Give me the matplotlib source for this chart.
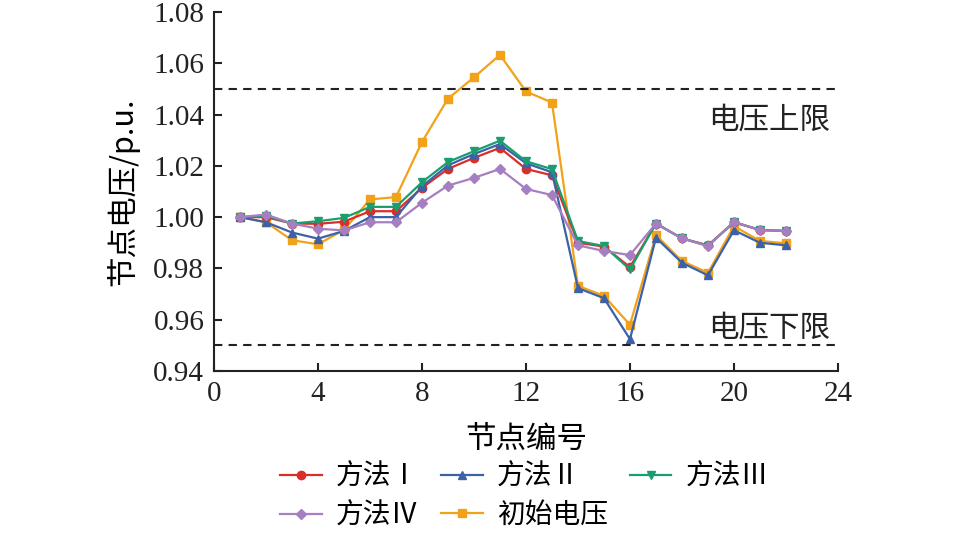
import numpy as np
import matplotlib
matplotlib.use("Agg")
import matplotlib.pyplot as plt

plt.rcParams['font.family'] = ['Liberation Serif', 'Noto Sans CJK SC']
plt.rcParams['axes.unicode_minus'] = False

nodes = list(range(1, 23))

# 方法I
v_m1 = [1.000, 1.000, 0.9975, 0.9974, 0.9982, 1.0023, 1.0023, 1.0114, 1.0188, 1.0231, 1.0270,
        1.0188, 1.0163, 0.9900, 0.9885, 0.9805, 0.9975, 0.9917, 0.9890, 0.9980, 0.9950, 0.9946]
# 方法II
v_m2 = [1.000, 0.998, 0.9940, 0.9916, 0.9946, 1.0000, 1.0000, 1.0120, 1.0202, 1.0246, 1.0285,
        1.0210, 1.0175, 0.9723, 0.9684, 0.9524, 0.9920, 0.9822, 0.9773, 0.9949, 0.9900, 0.9890]
# 方法III
v_m3 = [1.000, 1.0005, 0.9975, 0.9984, 0.9997, 1.0040, 1.0040, 1.0136, 1.0215, 1.0257, 1.0298,
        1.0218, 1.0187, 0.9907, 0.9887, 0.9796, 0.9975, 0.9917, 0.9888, 0.9980, 0.9950, 0.9946]
# 方法IV
v_m4 = [1.000, 1.001, 0.9975, 0.9955, 0.9948, 0.9980, 0.9980, 1.0056, 1.0123, 1.0153, 1.0188,
        1.0110, 1.0086, 0.9890, 0.9868, 0.9852, 0.9975, 0.9917, 0.9887, 0.9982, 0.9949, 0.9946]
# 初始电压
v_init = [1.000, 0.998, 0.9910, 0.9894, 0.9950, 1.0069, 1.0078, 1.0293, 1.0462, 1.0545, 1.0633,
          1.0490, 1.0447, 0.9732, 0.9693, 0.9580, 0.9930, 0.9829, 0.9783, 0.9965, 0.9907, 0.9898]

v_upper = 1.05
v_lower = 0.95

fig = plt.figure(figsize=(9.57, 5.33), dpi=100)
ax = fig.add_axes([0.2236, 0.304, 0.652, 0.6735])

lw = 1.6
ms = 6
h5, = ax.plot(nodes, v_init, '-s', color='#F2A219', lw=lw, ms=ms, label='初始电压')
h1, = ax.plot(nodes, v_m1, '-o', color='#D7302A', lw=lw, ms=ms, label='方法Ⅰ')
h2, = ax.plot(nodes, v_m2, '-^', color='#3B62A9', lw=lw, ms=ms, label='方法Ⅱ')
h3, = ax.plot(nodes, v_m3, '-v', color='#1B9E6E', lw=lw, ms=ms, label='方法Ⅲ')
h4, = ax.plot(nodes, v_m4, '-D', color='#A57FC0', lw=lw, ms=5.5, label='方法Ⅳ')

ax.axhline(v_upper, color='#222222', lw=1.5, ls=(0, (4, 3)))
ax.axhline(v_lower, color='#222222', lw=1.5, ls=(0, (4, 3)))
ax.text(23.7, 1.0378, '电压上限', ha='right', va='center', fontsize=22,
        family=['Noto Sans CJK SC'], color='#222222')
ax.text(23.7, 0.9568, '电压下限', ha='right', va='center', fontsize=22,
        family=['Noto Sans CJK SC'], color='#222222')

ax.set_xlim(0, 24)
ax.set_ylim(0.94, 1.08)
ax.set_xticks(range(0, 25, 4))
ax.set_yticks(np.arange(0.94, 1.0801, 0.02))
ax.yaxis.set_major_formatter(matplotlib.ticker.FormatStrFormatter('%.2f'))
ax.tick_params(direction='in', labelsize=21, width=1.5, length=6, colors='#222222', pad=7)
for s in ['top', 'right']:
    ax.spines[s].set_visible(False)
for s in ['left', 'bottom']:
    ax.spines[s].set_linewidth(1.5)
    ax.spines[s].set_color('#222222')

ax.set_xlabel('节点编号', fontsize=22, family=['Noto Sans CJK SC'], labelpad=12)
ax.set_ylabel('节点电压/p.u.', fontsize=22, family=['Noto Sans CJK SC', 'Liberation Serif'], labelpad=10)

# order so that rows read: I, II, III / IV, 初始电压
fig.legend([h1, h4, h2, h5, h3], ['方法Ⅰ', '方法Ⅳ', '方法Ⅱ', '初始电压', '方法Ⅲ'],
           loc='center', bbox_to_anchor=(0.548, 0.068), ncol=3, frameon=False,
           prop={'family': ['Liberation Serif', 'Noto Sans CJK SC'], 'size': 20},
           handlelength=1.5, columnspacing=0.8, handletextpad=0.5, labelspacing=0.45,
           borderpad=0.1)

fig.savefig('out.png', dpi=100)
